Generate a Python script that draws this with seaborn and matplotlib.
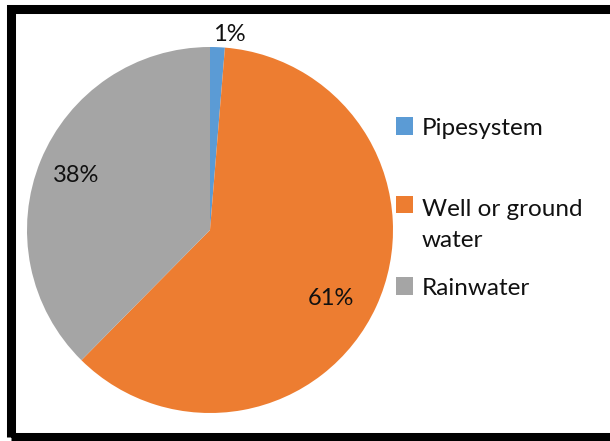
import matplotlib
matplotlib.use("Agg")
import matplotlib.pyplot as plt
import seaborn as sns
import numpy as np
from matplotlib.patches import Rectangle, Patch
from matplotlib.legend_handler import HandlerPatch

sns.set_theme(style="white")
plt.rcParams['font.family'] = ['Lato', 'DejaVu Sans']

categories = ["Pipesystem", "Well or ground\nwater", "Rainwater"]
values = [1.3, 61.1, 37.6]
pct_labels = ["1%", "61%", "38%"]
colors = ["#5B9BD5", "#ED7D31", "#A5A5A5"]

W, H = 610, 441
fig = plt.figure(figsize=(W / 100, H / 100), dpi=100)
cx, cy, r = 210, 230, 183
ax = fig.add_axes([(cx - r) / W, (H - cy - r) / H, 2 * r / W, 2 * r / H])

wedges, _ = ax.pie(values, colors=colors, startangle=90, counterclock=False,
                   wedgeprops=dict(linewidth=0))
ax.set_xlim(-1, 1)
ax.set_ylim(-1, 1)
ax.set_aspect("equal")
ax.axis("off")

# percentage labels
cum = np.cumsum([0] + values[:-1])
dists = [1.07, 0.76, 0.79]
angle_offsets = [0.0, 5.0, 0.0]
for i, (v, c0) in enumerate(zip(values, cum)):
    mid = (c0 + v / 2) / sum(values) * 2 * np.pi + np.deg2rad(angle_offsets[i])
    d = dists[i]
    x, y = d * np.sin(mid), d * np.cos(mid)
    if i == 0:
        x = 0.105
    ax.text(x, y, pct_labels[i], ha="center", va="center", fontsize=17, color="#111111")


class ShiftedHandler(HandlerPatch):
    def __init__(self, shift=0.0, **kw):
        super().__init__(**kw)
        self.shift = shift

    def create_artists(self, legend, orig_handle, xdescent, ydescent, width, height, fontsize, trans):
        s = min(width, height)
        p = Rectangle((-xdescent + (width - s) / 2, -ydescent + (height - s) / 2 + self.shift * fontsize),
                      s, s, facecolor=orig_handle.get_facecolor(), edgecolor="none", transform=trans)
        return [p]


legend_y = [128, 225, 288]
shifts = [0.0, 0.85, 0.0]
for lab, col, ly, sh in zip(categories, colors, legend_y, shifts):
    h = Patch(facecolor=col)
    leg = fig.legend([h], [lab], loc="center left", bbox_to_anchor=(396 / W, 1 - ly / H),
                     frameon=False, fontsize=17.5, handlelength=0.72, handleheight=0.72,
                     handletextpad=0.35, borderpad=0, borderaxespad=0,
                     handler_map={h: ShiftedHandler(shift=sh)})
    for t in leg.get_texts():
        t.set_linespacing(1.55)
        t.set_color("#111111")

# outer frame
fig.add_artist(Rectangle((10.5 / W, 1 - 437 / H), (612 - 10.5) / W, (437 - 8.5) / H,
                         transform=fig.transFigure, fill=False, edgecolor="black",
                         linewidth=6.5, clip_on=False))

fig.savefig("out.png", dpi=100, facecolor="white")
